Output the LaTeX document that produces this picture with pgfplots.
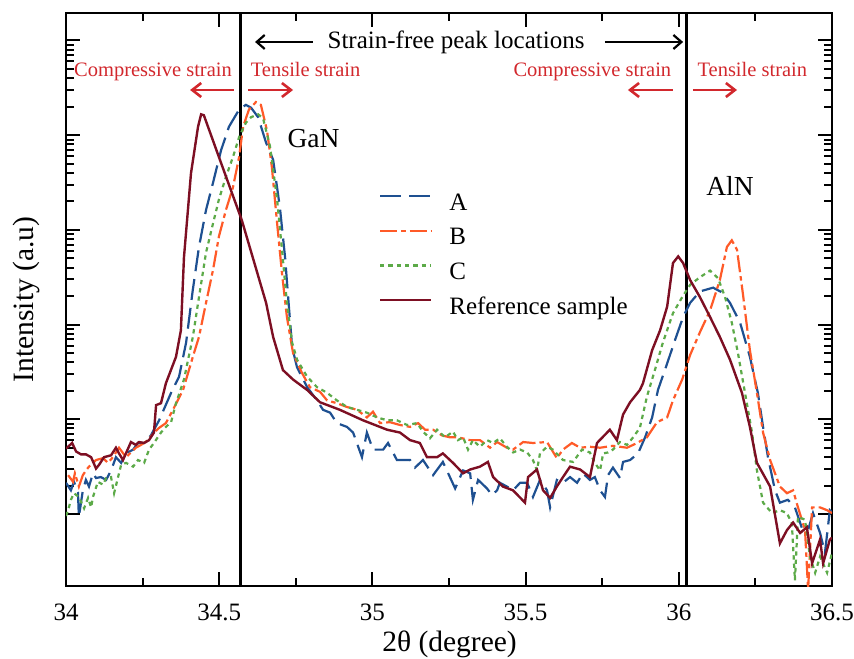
\documentclass[border=0pt]{standalone}
\usepackage{fontspec}
\setmainfont{Liberation Serif}
\usepackage{pgfplots}
\pgfplotsset{compat=1.18}
\usetikzlibrary{arrows.meta}
\definecolor{cA}{RGB}{30,80,145}
\definecolor{cB}{RGB}{255,90,40}
\definecolor{cC}{RGB}{92,170,72}
\definecolor{cR}{RGB}{125,15,35}
\definecolor{cT}{RGB}{210,40,45}
\newcommand\fs{\fontsize{25bp}{30bp}\selectfont}
\newcommand\fl{\fontsize{29.5bp}{34bp}\selectfont}
\newcommand\fg{\fontsize{27.5bp}{32bp}\selectfont}
\newcommand\fr{\fontsize{20.5bp}{24bp}\selectfont}
\begin{document}
\begin{tikzpicture}
\useasboundingbox (-66bp,-73bp) rectangle (788bp,586bp);
\begin{axis}[
  at={(0,0)}, anchor=south west, scale only axis,
  width=766bp, height=573bp,
  xmin=34, xmax=36.5, ymin=0.24, ymax=6.29,
  axis line style={line width=2bp},
  tick align=inside, tick pos=both, xticklabel pos=lower, yticklabel pos=left,
  major tick length=14bp, minor tick length=8bp,
  every tick/.style={black, line width=2bp},
  xtick={34,34.5,35,35.5,36,36.5},
  xticklabels={34,34.5,35,35.5,36,36.5},
  minor xtick={34.25,34.75,35.25,35.75,36.25},
  ytick={1,2,3,4,5,6}, yticklabels={},
  minor ytick={1.301,1.477,1.602,1.699,1.778,1.845,1.903,1.954,
               2.301,2.477,2.602,2.699,2.778,2.845,2.903,2.954,
               3.301,3.477,3.602,3.699,3.778,3.845,3.903,3.954,
               4.301,4.477,4.602,4.699,4.778,4.845,4.903,4.954,
               5.301,5.477,5.602,5.699,5.778,5.845,5.903,5.954},
  xticklabel style={font=\fs, anchor=base, yshift=-34bp},
  legend cell align=left,
  legend style={draw=none, fill=none, inner sep=0pt, outer sep=0pt,
    anchor=north west, at={(0.4086,0.6876)}, font=\fs, row sep=10.7bp,
    nodes={inner sep=0pt, text height=18bp, text depth=6bp},
    /tikz/every odd column/.append style={column sep=17bp}},
  legend image code/.code={\draw[#1] (0bp,8bp) -- (51bp,8bp);},
]
% vertical strain-free lines
\addplot[black, line width=3bp, forget plot] coordinates {(34.568,0.24) (34.568,6.29)};
\addplot[black, line width=3bp, forget plot] coordinates {(36.026,0.24) (36.026,6.29)};

% A
\addplot[cA, line width=2.2bp, dash pattern=on 21bp off 8bp] coordinates {
(34.000,1.33)(34.016,1.25)(34.026,1.34)(34.039,1.23)(34.042,0.97)(34.055,1.25)(34.065,1.36)(34.075,1.29)(34.088,1.43)(34.098,1.38)(34.114,1.39)(34.131,1.36)(34.147,1.46)(34.163,1.60)(34.180,1.54)(34.196,1.64)(34.219,1.68)(34.235,1.75)(34.255,1.75)(34.277,1.83)(34.304,1.99)(34.343,2.28)(34.369,2.45)(34.392,2.81)(34.414,3.37)(34.434,3.82)(34.457,4.21)(34.480,4.50)(34.506,4.84)(34.532,5.09)(34.565,5.27)(34.587,5.32)(34.604,5.29)(34.627,5.19)(34.653,4.92)(34.676,4.74)(34.698,4.24)(34.715,3.71)(34.725,3.29)(34.738,2.76)(34.754,2.55)(34.787,2.34)(34.819,2.20)(34.839,2.10)(34.862,2.07)(34.884,1.96)(34.917,1.92)(34.937,1.86)(34.966,1.60)(34.982,1.86)(35.002,1.68)(35.035,1.68)(35.051,1.75)(35.080,1.57)(35.123,1.57)(35.139,1.49)(35.165,1.57)(35.198,1.41)(35.230,1.55)(35.253,1.39)(35.270,1.27)(35.296,1.46)(35.319,1.43)(35.328,1.15)(35.345,1.36)(35.374,1.27)(35.390,1.20)(35.407,1.25)(35.416,1.33)(35.439,1.29)(35.459,1.25)(35.482,1.33)(35.505,1.33)(35.524,1.18)(35.547,1.36)(35.570,1.25)(35.580,1.07)(35.602,1.36)(35.622,1.33)(35.645,1.39)(35.668,1.33)(35.687,1.43)(35.710,1.36)(35.726,1.39)(35.743,1.25)(35.759,1.18)(35.769,1.41)(35.785,1.49)(35.808,1.38)(35.818,1.55)(35.841,1.57)(35.867,1.64)(35.890,1.81)(35.913,2.02)(35.932,2.31)(35.962,2.59)(35.988,2.84)(36.014,3.08)(36.037,3.23)(36.069,3.35)(36.112,3.39)(36.141,3.34)(36.167,3.23)(36.200,3.02)(36.232,2.66)(36.258,2.28)(36.275,1.92)(36.291,1.60)(36.314,1.25)(36.330,1.12)(36.356,1.15)(36.379,1.07)(36.402,0.85)(36.422,0.83)(36.438,1.01)(36.461,0.80)(36.477,0.59)(36.493,1.04)(36.500,1.02)};
\addlegendentry{A}

% B
\addplot[cB, line width=2.2bp, dash pattern=on 17bp off 4bp on 4.5bp off 4bp] coordinates {
(34.007,1.41)(34.023,1.34)(34.029,1.43)(34.042,1.29)(34.055,1.41)(34.065,1.46)(34.075,1.50)(34.098,1.57)(34.121,1.59)(34.137,1.54)(34.153,1.60)(34.173,1.70)(34.196,1.60)(34.212,1.65)(34.228,1.70)(34.245,1.73)(34.268,1.78)(34.287,1.86)(34.304,1.91)(34.326,1.96)(34.349,2.10)(34.382,2.31)(34.414,2.66)(34.434,2.87)(34.457,3.23)(34.480,3.58)(34.499,3.93)(34.522,4.21)(34.545,4.45)(34.565,4.77)(34.578,5.09)(34.597,5.27)(34.620,5.35)(34.636,5.32)(34.656,5.05)(34.672,4.66)(34.689,4.07)(34.705,3.54)(34.721,3.08)(34.741,2.70)(34.770,2.49)(34.796,2.34)(34.829,2.29)(34.852,2.20)(34.884,2.17)(34.917,2.13)(34.950,2.10)(34.982,2.02)(35.002,2.08)(35.025,1.96)(35.057,1.97)(35.090,1.94)(35.123,1.92)(35.149,1.96)(35.172,1.89)(35.198,1.89)(35.227,1.83)(35.253,1.81)(35.279,1.81)(35.319,1.78)(35.351,1.78)(35.384,1.70)(35.407,1.76)(35.439,1.70)(35.459,1.68)(35.492,1.76)(35.524,1.75)(35.570,1.76)(35.602,1.59)(35.622,1.68)(35.651,1.75)(35.678,1.70)(35.710,1.71)(35.743,1.70)(35.785,1.72)(35.831,1.70)(35.864,1.75)(35.896,1.81)(35.929,1.97)(35.962,2.02)(35.981,2.20)(36.011,2.42)(36.037,2.68)(36.069,2.92)(36.102,3.15)(36.134,3.47)(36.157,3.82)(36.173,3.89)(36.190,3.79)(36.209,3.33)(36.232,2.73)(36.255,2.28)(36.275,1.86)(36.298,1.57)(36.330,1.29)(36.353,1.22)(36.373,1.25)(36.389,1.07)(36.412,0.83)(36.422,0.20)(36.435,1.07)(36.461,1.07)(36.484,1.04)(36.500,1.01)};
\addlegendentry{B}

% C
\addplot[cC, line width=2.2bp, dash pattern=on 4.3bp off 4bp] coordinates {
(34.000,0.98)(34.007,1.04)(34.016,1.15)(34.026,1.22)(34.042,1.18)(34.059,1.06)(34.072,1.17)(34.082,1.07)(34.088,1.18)(34.104,1.34)(34.121,1.31)(34.131,1.38)(34.147,1.39)(34.157,1.22)(34.170,1.39)(34.180,1.52)(34.196,1.54)(34.219,1.50)(34.235,1.57)(34.255,1.54)(34.271,1.68)(34.287,1.75)(34.310,1.86)(34.326,1.92)(34.343,1.97)(34.359,2.17)(34.385,2.42)(34.414,2.87)(34.434,3.29)(34.457,3.76)(34.480,4.07)(34.499,4.32)(34.522,4.56)(34.545,4.77)(34.565,4.98)(34.587,5.13)(34.604,5.19)(34.627,5.22)(34.643,5.18)(34.666,4.88)(34.689,4.32)(34.705,3.79)(34.721,3.23)(34.738,2.81)(34.754,2.63)(34.787,2.45)(34.819,2.34)(34.852,2.28)(34.884,2.20)(34.917,2.13)(34.950,2.10)(34.982,2.07)(35.015,2.02)(35.048,1.99)(35.080,1.99)(35.113,1.94)(35.146,1.96)(35.165,1.87)(35.188,1.80)(35.211,1.89)(35.237,1.81)(35.263,1.87)(35.279,1.78)(35.296,1.81)(35.312,1.68)(35.328,1.78)(35.351,1.71)(35.374,1.78)(35.394,1.75)(35.416,1.80)(35.439,1.71)(35.459,1.65)(35.482,1.68)(35.505,1.65)(35.524,1.57)(35.537,1.46)(35.547,1.64)(35.570,1.71)(35.589,1.68)(35.622,1.57)(35.655,1.55)(35.684,1.68)(35.710,1.65)(35.726,1.54)(35.743,1.46)(35.753,1.64)(35.769,1.65)(35.785,1.68)(35.808,1.76)(35.831,1.73)(35.851,1.81)(35.873,1.91)(35.896,2.24)(35.922,2.52)(35.948,2.81)(35.981,3.12)(36.011,3.29)(36.037,3.42)(36.069,3.50)(36.102,3.57)(36.128,3.49)(36.151,3.29)(36.173,3.02)(36.193,2.70)(36.216,2.28)(36.239,1.86)(36.255,1.46)(36.275,1.12)(36.304,1.01)(36.330,1.04)(36.353,1.01)(36.369,0.90)(36.379,0.30)(36.389,0.97)(36.412,0.94)(36.428,0.55)(36.445,0.38)(36.461,0.55)(36.484,0.38)(36.500,0.59)};
\addlegendentry{C}

% Reference sample
\addplot[cR, line width=2.4bp] coordinates {
(34.000,1.69)(34.020,1.75)(34.033,1.66)(34.049,1.63)(34.065,1.63)(34.082,1.60)(34.098,1.48)(34.108,1.52)(34.124,1.60)(34.147,1.62)(34.163,1.70)(34.173,1.64)(34.186,1.57)(34.212,1.76)(34.228,1.73)(34.238,1.76)(34.255,1.75)(34.271,1.78)(34.287,1.86)(34.294,2.15)(34.310,2.17)(34.326,2.38)(34.359,2.66)(34.375,2.94)(34.385,3.71)(34.408,4.60)(34.431,5.09)(34.441,5.22)(34.450,5.21)(34.499,4.77)(34.574,4.10)(34.653,3.23)(34.676,2.87)(34.708,2.52)(34.741,2.42)(34.787,2.31)(34.829,2.18)(34.894,2.10)(34.969,1.99)(35.048,1.89)(35.090,1.86)(35.123,1.78)(35.155,1.75)(35.178,1.60)(35.211,1.60)(35.230,1.64)(35.263,1.54)(35.296,1.43)(35.319,1.47)(35.351,1.50)(35.377,1.55)(35.394,1.39)(35.426,1.29)(35.459,1.25)(35.498,1.12)(35.508,1.39)(35.537,1.47)(35.557,1.25)(35.580,1.17)(35.602,1.29)(35.622,1.39)(35.645,1.50)(35.678,1.47)(35.710,1.39)(35.733,1.75)(35.775,1.89)(35.798,1.78)(35.818,2.05)(35.841,2.18)(35.873,2.31)(35.883,2.38)(35.913,2.73)(35.939,2.94)(35.962,3.19)(35.981,3.65)(35.998,3.72)(36.014,3.65)(36.037,3.47)(36.069,3.29)(36.102,3.08)(36.134,2.87)(36.167,2.63)(36.206,2.28)(36.232,1.92)(36.255,1.54)(36.298,1.29)(36.330,0.69)(36.353,0.83)(36.373,0.91)(36.396,0.80)(36.418,0.86)(36.435,0.48)(36.461,0.73)(36.471,0.48)(36.493,0.73)(36.500,0.75)};
\addlegendentry{Reference sample}

% annotations
\draw[black, line width=2.2bp, -{Straight Barb[length=8bp,width=14bp]}] (axis cs:34.806,5.984) -- (axis cs:34.617,5.984);
\draw[black, line width=2.2bp, -{Straight Barb[length=8bp,width=14bp]}] (axis cs:35.759,5.984) -- (axis cs:36.014,5.984);
\node[font=\fs, anchor=base] at (axis cs:35.273,5.91) {Strain-free peak locations};
\node[font=\fr, text=cT, anchor=base] at (axis cs:34.284,5.615) {Compressive strain};
\node[font=\fr, text=cT, anchor=base] at (axis cs:34.782,5.615) {Tensile strain};
\node[font=\fr, text=cT, anchor=base] at (axis cs:35.718,5.615) {Compressive strain};
\node[font=\fr, text=cT, anchor=base] at (axis cs:36.240,5.615) {Tensile strain};
\draw[cT, line width=2.6bp, -{Straight Barb[length=9bp,width=14bp]}] (axis cs:34.548,5.477) -- (axis cs:34.405,5.477);
\draw[cT, line width=2.6bp, -{Straight Barb[length=9bp,width=14bp]}] (axis cs:34.594,5.477) -- (axis cs:34.741,5.477);
\draw[cT, line width=2.6bp, -{Straight Barb[length=9bp,width=14bp]}] (axis cs:35.981,5.477) -- (axis cs:35.834,5.477);
\draw[cT, line width=2.6bp, -{Straight Barb[length=9bp,width=14bp]}] (axis cs:36.046,5.477) -- (axis cs:36.190,5.477);
\node[font=\fg, anchor=base] at (axis cs:34.808,4.875) {GaN};
\node[font=\fg, anchor=base] at (axis cs:36.167,4.358) {AlN};
\end{axis}
\node[font=\fl, rotate=90, anchor=base] at (-33bp,286.5bp) {Intensity (a.u)};
\node[font=\fl, anchor=base] at (383.5bp,-65bp) {2θ (degree)};
\end{tikzpicture}
\end{document}
